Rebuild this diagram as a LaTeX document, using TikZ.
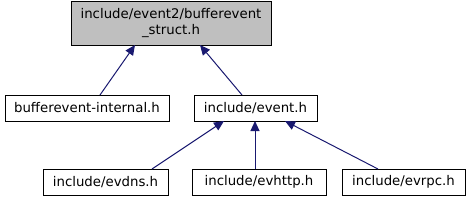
\documentclass[tikz,border=0pt]{standalone}
\usepackage{fontspec}
\setmainfont{DejaVu Sans}
\usetikzlibrary{arrows.meta}
\definecolor{edgecol}{HTML}{191970}
\begin{document}
\begin{tikzpicture}[x=1pt,y=-1pt,
  box/.style={draw=black,line width=1pt,inner sep=0pt,font=\fontsize{13.3}{16}\selectfont,align=center},
  dep/.style={draw=edgecol,line width=1pt,{Triangle[length=10pt,width=9pt]}-}]
\useasboundingbox (0,0) rectangle (469,201);
\node[box,fill=black!25,minimum width=200pt,minimum height=44pt] (top) at (171,23) {include/event2/bufferevent\\\_struct.h};
\node[box,minimum width=164pt,minimum height=26pt] (bi) at (87,108) {bufferevent-internal.h};
\node[box,minimum width=123pt,minimum height=26pt] (ev) at (255.5,108) {include/event.h};
\node[box,minimum width=125pt,minimum height=26pt] (dns) at (105.5,182) {include/evdns.h};
\node[box,minimum width=134pt,minimum height=26pt] (http) at (259,182) {include/evhttp.h};
\node[box,minimum width=123pt,minimum height=26pt] (rpc) at (403.5,182) {include/evrpc.h};
\draw[dep] (135,45) -- (100,95);
\draw[dep] (200,45) -- (242,95);
\draw[dep] (224,121) -- (152,169);
\draw[dep] (255,121) -- (255,169);
\draw[dep] (285,121) -- (378,169);
\end{tikzpicture}
\end{document}
